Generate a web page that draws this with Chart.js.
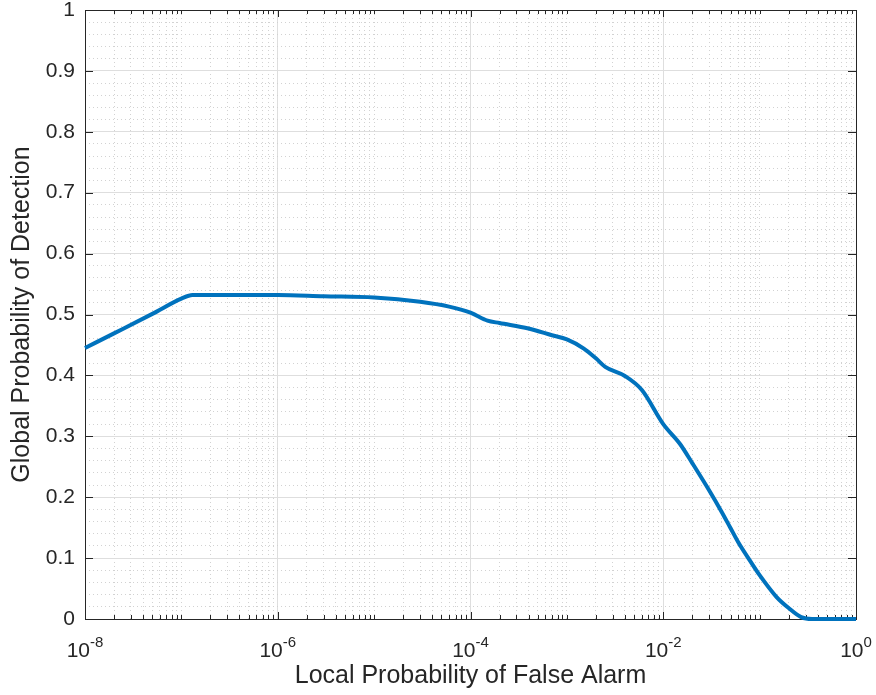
<!DOCTYPE html>
<html>
<head>
<meta charset="utf-8">
<script src="https://cdn.jsdelivr.net/npm/chart.js@4.4.1/dist/chart.umd.min.js"></script>
<style>
  html, body { margin: 0; padding: 0; background: #fff; }
  #wrap { width: 876px; height: 695px; }
</style>
</head>
<body>
<div id="wrap"><canvas id="roc" width="876" height="695"></canvas></div>
<script>
// Local false-alarm probability (x, log scale) and the global detection probability
const falseAlarm = [1e-8, 2e-8, 5e-8, 1e-7, 1.3e-7, 3e-7, 1e-6, 3e-6, 1e-5, 3e-5, 6e-5,
  1e-4, 1.5e-4, 2e-4, 4e-4, 7e-4, 1e-3, 1.5e-3, 2e-3, 2.5e-3, 4e-3, 6e-3,
  1e-2, 1.5e-2, 2e-2, 3e-2, 4e-2, 5e-2, 6e-2, 8e-2, 0.1, 0.15, 0.2, 0.27, 0.35, 0.5, 1];
const detection = [0.445, 0.469, 0.501, 0.526, 0.532, 0.532, 0.532, 0.530, 0.528, 0.521, 0.513,
  0.503, 0.490, 0.486, 0.477, 0.466, 0.459, 0.444, 0.428, 0.414, 0.399, 0.376,
  0.320, 0.287, 0.256, 0.211, 0.177, 0.149, 0.126, 0.095, 0.072, 0.036, 0.018, 0.003, 0, 0, 0];

const xDecades = [-8, -7, -6, -5, -4, -3, -2, -1, 0];
const xLabelDecades = [-8, -6, -4, -2, 0];
const yMin = 0, yMax = 1, yStep = 0.02, yLabelStep = 0.1;

const INK = '#262626';
const FONT = '"Liberation Sans", Arial, Helvetica, sans-serif';

function isMajorX(v) {
  const e = Math.log10(v);
  const r = Math.round(e);
  return Math.abs(e - r) < 1e-9 && xLabelDecades.includes(r);
}
function isMajorY(v) {
  return Math.round(v * 50) % 5 === 0;
}

// box with inward tick marks, plus 10^n labels with a real superscript
const matlabAxes = {
  id: 'matlabAxes',
  beforeDatasetsDraw(chart) {
    const { ctx, chartArea: a, scales: { x, y } } = chart;
    ctx.save();
    ctx.strokeStyle = INK;
    ctx.lineWidth = 1;
    ctx.beginPath();
    x.ticks.forEach((t) => {
      const px = Math.round(x.getPixelForValue(t.value)) + 0.5;
      const len = isMajorX(t.value) ? 7 : 4;
      ctx.moveTo(px, a.bottom); ctx.lineTo(px, a.bottom - len);
      ctx.moveTo(px, a.top); ctx.lineTo(px, a.top + len);
    });
    y.ticks.forEach((t) => {
      if (!isMajorY(t.value)) return;
      const py = Math.round(y.getPixelForValue(t.value)) + 0.5;
      ctx.moveTo(a.left, py); ctx.lineTo(a.left + 8, py);
      ctx.moveTo(a.right, py); ctx.lineTo(a.right - 8, py);
    });
    ctx.stroke();
    ctx.strokeRect(Math.round(a.left) + 0.5, Math.round(a.top) + 0.5,
      Math.round(a.right - a.left), Math.round(a.bottom - a.top));
    ctx.restore();
  },
  afterDraw(chart) {
    const { ctx, chartArea: a, scales: { x } } = chart;
    ctx.save();
    ctx.fillStyle = INK;
    ctx.textBaseline = 'alphabetic';
    ctx.textAlign = 'left';
    xLabelDecades.forEach((e) => {
      const px = x.getPixelForValue(Math.pow(10, e));
      const exp = String(e);
      ctx.font = '21px ' + FONT;
      const w1 = ctx.measureText('10').width;
      ctx.font = '15px ' + FONT;
      const w2 = ctx.measureText(exp).width;
      const start = px - (w1 + w2) / 2;
      ctx.font = '21px ' + FONT;
      ctx.fillText('10', start, a.bottom + 38);
      ctx.font = '15px ' + FONT;
      ctx.fillText(exp, start + w1, a.bottom + 28);
    });
    ctx.restore();
  },
};

const points = falseAlarm.map((v, i) => ({ x: v, y: detection[i] }));

new Chart(document.getElementById('roc'), {
  type: 'line',
  data: {
    datasets: [{
      data: points,
      borderColor: '#0072BD',
      borderWidth: 4,
      pointRadius: 0,
      cubicInterpolationMode: 'monotone',
      clip: 6,
    }],
  },
  options: {
    responsive: false,
    animation: false,
    events: [],
    layout: { padding: { left: 0, right: 20, top: 10, bottom: 0 } },
    plugins: { legend: { display: false }, tooltip: { enabled: false } },
    scales: {
      x: {
        type: 'logarithmic',
        min: 1e-8,
        max: 1,
        afterBuildTicks(scale) {
          const ticks = [];
          xDecades.forEach((e) => {
            for (let k = 1; k <= 9; k += 1) {
              if (e === 0 && k > 1) break;
              ticks.push({ value: k * Math.pow(10, e) });
            }
          });
          scale.ticks = ticks;
        },
        afterFit(scale) {
          scale.height = 76;
          scale.paddingLeft = 0;
          scale.paddingRight = 0;
        },
        ticks: { display: false, autoSkip: false },
        grid: {
          drawTicks: false,
          color: (c) => (isMajorX(c.tick.value) ? '#dedede' : '#d2d2d2'),
          lineWidth: 1,
        },
        border: {
          display: false,
          dash: (c) => (isMajorX(c.tick.value) ? [] : [1, 3]),
        },
        title: {
          display: true,
          text: 'Local Probability of False Alarm',
          color: INK,
          font: { family: FONT, size: 25 },
          padding: { top: 0, bottom: 4 },
        },
      },
      y: {
        min: yMin,
        max: yMax,
        afterFit(scale) {
          scale.width = 85;
          scale.paddingTop = 0;
          scale.paddingBottom = 0;
        },
        ticks: {
          stepSize: yStep,
          autoSkip: false,
          padding: 10,
          color: INK,
          font: { family: FONT, size: 21 },
          callback: (v) => (isMajorY(v) ? String(Math.round(v / yLabelStep) / 10) : ''),
        },
        grid: {
          drawTicks: false,
          color: (c) => (isMajorY(c.tick.value) ? '#dedede' : '#d2d2d2'),
          lineWidth: 1,
        },
        border: {
          display: false,
          dash: (c) => (isMajorY(c.tick.value) ? [] : [1, 3]),
        },
        title: {
          display: true,
          text: 'Global Probability of Detection',
          color: INK,
          font: { family: FONT, size: 25 },
          padding: { top: 7, bottom: 0 },
        },
      },
    },
  },
  plugins: [matlabAxes],
});
</script>
</body>
</html>
